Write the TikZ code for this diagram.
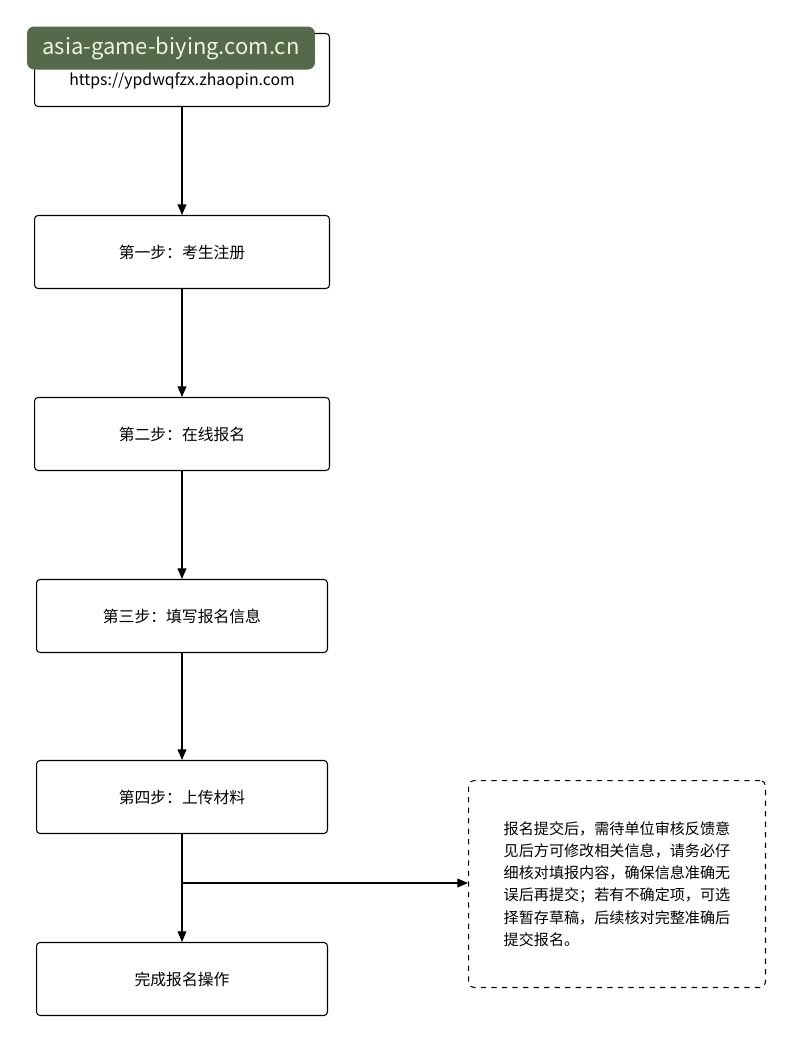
\documentclass[tikz,border=0pt]{standalone}
\usepackage{fontspec}
\setmainfont{Noto Sans CJK SC}
\usetikzlibrary{arrows.meta}
\tikzset{
	stepbox/.style = {draw, semithick, rounded corners=2pt, minimum width=5.9cm,
		minimum height=1.46cm, font=\fontsize{9}{12}\selectfont},
	notebox/.style = {draw, semithick, dashed, rounded corners=3pt, minimum width=5.94cm,
		minimum height=4.14cm, font=\fontsize{8.6}{12.6}\selectfont, align=left},
	wmark/.style   = {fill={rgb,255:red,84;green,106;blue,74}, rounded corners=4pt,
		text={rgb,255:red,235;green,245;blue,225}, minimum width=5.76cm,
		minimum height=0.86cm, font=\fontsize{12.5}{14}\selectfont}
}
\begin{document}
\begin{tikzpicture}[x=0.02cm, y=-0.02cm, >={Triangle[length=6pt,width=5pt]}, semithick]
	\useasboundingbox (0,0) rectangle (800,1049);
	\node at (182,70)[stepbox, align=center] (s0) {考生登录报名网址：\\https://ypdwqfzx.zhaopin.com};
	\node at (182,252)[stepbox] (s1) {第一步：考生注册};
	\node at (182,434)[stepbox] (s2) {第二步：在线报名};
	\node at (182,616)[stepbox, minimum width=5.82cm] (s3) {第三步：填写报名信息};
	\node at (182,797)[stepbox, minimum width=5.82cm] (s4) {第四步：上传材料};
	\node at (182,979)[stepbox, minimum width=5.82cm] (s5) {完成报名操作};
	\node at (617,884)[notebox] (n1) {报名提交后，需待单位审核反馈意\\见后方可修改相关信息，请务必仔\\细核对填报内容，确保信息准确无\\误后再提交；若有不确定项，可选\\择暂存草稿，后续核对完整准确后\\提交报名。};
	\coordinate (b1) at (182,883);

	\draw[->] (s0) -- (s1);
	\draw[->] (s1) -- (s2);
	\draw[->] (s2) -- (s3);
	\draw[->] (s3) -- (s4);
	\draw[->] (s4) -- (s5);
	\draw[->] (b1) -- (b1 -| n1.west);

	\node at (171,48)[wmark] (wm) {asia-game-biying.com.cn};
\end{tikzpicture}
\end{document}
